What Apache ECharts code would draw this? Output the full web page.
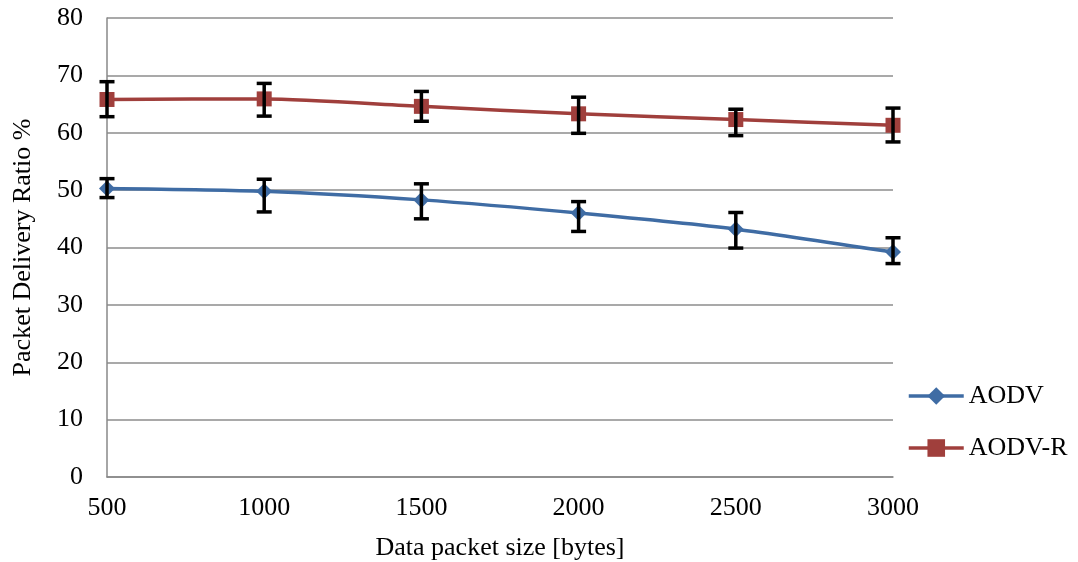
<!DOCTYPE html>
<html>
<head>
<meta charset="utf-8">
<script src="https://cdn.jsdelivr.net/npm/echarts@6/dist/echarts.min.js"></script>
<style>
  html, body { margin: 0; padding: 0; background: #fff; }
  #chart { width: 1078px; height: 562px; }
</style>
</head>
<body>
<div id="chart"></div>
<script>
// Packet size on the x axis (bytes)
const packetSizes = [500, 1000, 1500, 2000, 2500, 3000];

// Mean delivery ratio (%) per protocol
const aodv  = [50.3, 49.8, 48.3, 46.0, 43.2, 39.2];
const aodvR = [65.8, 65.9, 64.6, 63.3, 62.3, 61.3];

// Error bar ends (%)
const aodvLow   = [48.7, 46.2, 45.0, 42.8, 39.9, 37.2];
const aodvHigh  = [52.0, 51.9, 51.1, 48.0, 46.1, 41.7];
const aodvRLow  = [62.8, 62.9, 62.0, 59.9, 59.5, 58.4];
const aodvRHigh = [68.9, 68.6, 67.2, 66.2, 64.1, 64.3];

const FONT = '"Liberation Serif", "Times New Roman", serif';
const FS = 26;
const BLUE = '#3F6CA4';
const RED = '#A03F3C';

function pairs(vals) { return packetSizes.map((x, i) => [x, vals[i]]); }
function bars(lo, hi) { return packetSizes.map((x, i) => [x, lo[i], hi[i]]); }

// Vertical whisker with caps at both ends
function renderErrorBar(params, api) {
  const x = api.value(0);
  const top = api.coord([x, api.value(2)]);
  const bot = api.coord([x, api.value(1)]);
  const half = 7.5;
  const style = { stroke: '#000', lineWidth: 3.5, fill: null };
  return {
    type: 'group',
    children: [
      { type: 'line', shape: { x1: top[0], y1: top[1], x2: bot[0], y2: bot[1] }, style },
      { type: 'line', shape: { x1: top[0] - half, y1: top[1], x2: top[0] + half, y2: top[1] }, style },
      { type: 'line', shape: { x1: bot[0] - half, y1: bot[1], x2: bot[0] + half, y2: bot[1] }, style }
    ]
  };
}

const chart = echarts.init(document.getElementById('chart'), null, { renderer: 'canvas' });

chart.setOption({
  animation: false,
  backgroundColor: '#fff',
  textStyle: { fontFamily: FONT, color: '#000' },
  grid: { left: 107, right: 185, top: 18, bottom: 85, containLabel: false, outerBoundsMode: 'none' },
  legend: {
    orient: 'vertical',
    left: 907,
    top: 383,
    itemWidth: 55,
    itemHeight: 22,
    itemGap: 26,
    padding: 0,
    lineStyle: { width: 3.5 },
    textStyle: { fontFamily: FONT, fontSize: FS, lineHeight: 26, color: '#000' },
    data: ['AODV', 'AODV-R']
  },
  xAxis: {
    type: 'value',
    min: 500,
    max: 3000,
    interval: 500,
    name: 'Data packet size [bytes]',
    nameLocation: 'middle',
    nameGap: 58,
    nameTextStyle: { fontFamily: FONT, fontSize: FS, color: '#000' },
    axisLine: { show: true, lineStyle: { color: '#888', width: 1.5 } },
    axisTick: { show: false },
    splitLine: { show: false },
    axisLabel: { fontFamily: FONT, fontSize: FS, color: '#000', margin: 18, formatter: v => String(v) }
  },
  yAxis: {
    type: 'value',
    min: 0,
    max: 80,
    interval: 10,
    name: 'Packet Delivery Ratio %',
    nameLocation: 'middle',
    nameGap: 71,
    nameTextStyle: { fontFamily: FONT, fontSize: FS, color: '#000' },
    axisLine: { show: true, lineStyle: { color: '#888', width: 1.5 } },
    axisTick: { show: false },
    splitLine: { show: true, lineStyle: { color: '#8c8c8c', width: 1.5 } },
    axisLabel: { fontFamily: FONT, fontSize: FS, color: '#000', margin: 24 }
  },
  series: [
    {
      name: 'AODV',
      type: 'line',
      data: pairs(aodv),
      smooth: 0.25,
      symbol: 'diamond',
      symbolSize: 16,
      lineStyle: { color: BLUE, width: 3.5 },
      itemStyle: { color: BLUE },
      z: 3
    },
    {
      name: 'AODV-R',
      type: 'line',
      data: pairs(aodvR),
      smooth: 0.25,
      symbol: 'rect',
      symbolSize: 15,
      lineStyle: { color: RED, width: 3.5 },
      itemStyle: { color: RED },
      z: 3
    },
    {
      name: 'AODV error',
      type: 'custom',
      renderItem: renderErrorBar,
      data: bars(aodvLow, aodvHigh),
      encode: { x: 0, y: [1, 2] },
      z: 5
    },
    {
      name: 'AODV-R error',
      type: 'custom',
      renderItem: renderErrorBar,
      data: bars(aodvRLow, aodvRHigh),
      encode: { x: 0, y: [1, 2] },
      z: 5
    }
  ]
});
</script>
</body>
</html>
